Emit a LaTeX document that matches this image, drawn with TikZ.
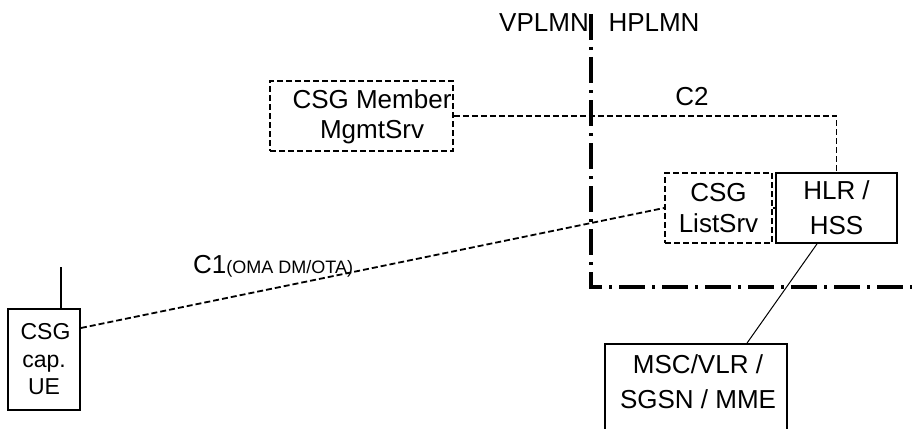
\documentclass[tikz,border=0pt]{standalone}
\usepackage{fontspec}
\setmainfont{Liberation Sans}
\begin{document}
\begin{tikzpicture}[x=1pt,y=-1pt,
  lbl/.style={font=\fontsize{26}{30}\selectfont, inner sep=0pt, align=center},
  dbox/.style={draw, line width=1.8pt, dash pattern=on 6pt off 3pt, inner sep=0pt},
  sbox/.style={draw, line width=1.8pt, inner sep=0pt},
  link/.style={line width=1.8pt, dash pattern=on 6pt off 3pt},
  border/.style={line width=3.2pt, dash pattern=on 26pt off 7pt on 3pt off 7pt}]
\useasboundingbox (0,0) rectangle (912,428);
\clip (0,0) rectangle (912,428);

% network boundary
\coordinate (btop) at (591,14);
\coordinate (bcorner) at (591,287);
\coordinate (bend) at (914,287);
\draw[border] (btop) -- (bcorner) -- (bend);
\node[lbl] (vplmn) at (544,23) {VPLMN};
\node[lbl] (hplmn) at (654,23) {HPLMN};

% boxes
\node[dbox, minimum width=183pt, minimum height=70pt] (member) at (361.5,116) {};
\node[lbl] (membertxt) at (372,117) {CSG Member\\MgmtSrv};
\node[dbox, minimum width=107pt, minimum height=70pt, lbl, font=\fontsize{26}{31}\selectfont] (list) at (718.5,208) {CSG\\ListSrv};
\node[sbox, minimum width=121pt, minimum height=70pt, lbl, font=\fontsize{26}{35}\selectfont] (hlr) at (836.5,208) {HLR /\\HSS};
\node[sbox, minimum width=182pt, minimum height=106pt] (msc) at (696,397) {};
\node[lbl, font=\fontsize{26}{35}\selectfont] (msctxt) at (698,382) {MSC/VLR /\\SGSN / MME};
\node[sbox, minimum width=72pt, minimum height=101pt, lbl, font=\fontsize{23}{27.5}\selectfont] (ue) at (44,359.5) {\hspace*{3pt}CSG\\cap.\\UE};

% antenna
\coordinate (tip) at (61,267);
\draw[line width=1.8pt] (tip) -- (tip |- ue.north);

% interfaces
\draw[link] (member.east) -| (hlr.north);
\node[lbl] (c2) at (692,97) {C2};
\draw[link] ([yshift=31.5pt]ue.east) -- (list.west);
\node[lbl, anchor=base west] (c1) at (193,273) {C1{\fontsize{18}{20}\selectfont(OMA DM/OTA)}};
\draw[line width=1.8pt] (list.east) -- (hlr.west);
\draw[line width=1pt] ([xshift=-19.5pt]hlr.south) -- ([xshift=51pt]msc.north);
\end{tikzpicture}
\end{document}
